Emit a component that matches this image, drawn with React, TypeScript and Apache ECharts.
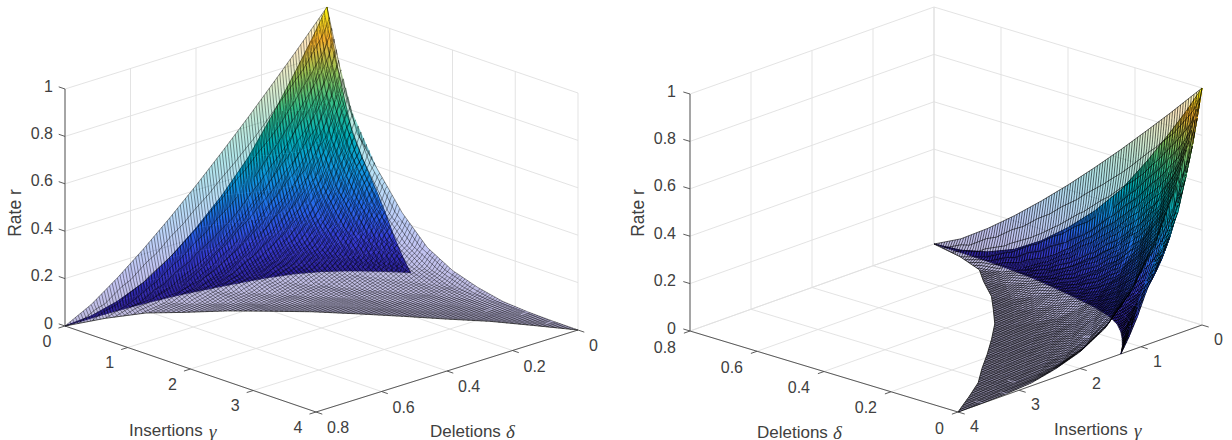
import React, { useEffect, useRef } from "react";
import * as echarts from "echarts";

// ---------- data ----------
const gammaTicks = [0, 1, 2, 3, 4];
const deltaTicks = [0, 0.2, 0.4, 0.6, 0.8];
const rateTicks = [0, 0.2, 0.4, 0.6, 0.8, 1];
const rateTickLabels = ["0", "0.2", "0.4", "0.6", "0.8", "1"];
const deltaTickLabels = ["0", "0.2", "0.4", "0.6", "0.8"];
const gammaTickLabels = ["0", "1", "2", "3", "4"];

// each sheet: a fan of profiles from (gamma 0, delta 0, r 1) out to its zero-rate curve
const fractions = [0, 0.06, 0.12, 0.2, 0.3, 0.4, 0.5, 0.6, 0.7, 0.8, 0.9, 1];

const upperZeroGamma = [0, 0.12, 0.3, 0.56, 0.87, 1.17, 1.53, 1.94, 2.34, 2.74, 3.12, 3.55, 4];
const upperZeroDelta = [0.8, 0.7, 0.61, 0.55, 0.47, 0.41, 0.34, 0.275, 0.215, 0.158, 0.1, 0.05, 0];
const upperRate = [
  [1, 0.926, 0.852, 0.757, 0.64, 0.528, 0.42, 0.318, 0.222, 0.134, 0.056, 0],
  [1, 0.911, 0.826, 0.716, 0.586, 0.465, 0.354, 0.253, 0.164, 0.089, 0.032, 0],
  [1, 0.894, 0.794, 0.669, 0.526, 0.399, 0.287, 0.192, 0.114, 0.055, 0.016, 0],
  [1, 0.878, 0.765, 0.626, 0.473, 0.342, 0.233, 0.146, 0.08, 0.034, 0.008, 0],
  [1, 0.862, 0.736, 0.585, 0.425, 0.293, 0.189, 0.111, 0.056, 0.021, 0.004, 0],
  [1, 0.846, 0.708, 0.547, 0.382, 0.252, 0.154, 0.084, 0.039, 0.013, 0.002, 0],
  [1, 0.831, 0.681, 0.512, 0.343, 0.216, 0.125, 0.064, 0.027, 0.008, 0.001, 0],
  [1, 0.82, 0.664, 0.49, 0.319, 0.195, 0.109, 0.053, 0.021, 0.006, 0.001, 0],
  [1, 0.81, 0.647, 0.468, 0.297, 0.176, 0.095, 0.044, 0.017, 0.004, 0, 0],
  [1, 0.8, 0.631, 0.448, 0.277, 0.159, 0.082, 0.037, 0.013, 0.003, 0, 0],
  [1, 0.79, 0.615, 0.428, 0.258, 0.144, 0.072, 0.031, 0.01, 0.002, 0, 0],
  [1, 0.781, 0.6, 0.41, 0.24, 0.13, 0.063, 0.026, 0.008, 0.002, 0, 0],
  [1, 0.72, 0.51, 0.39, 0.24, 0.13, 0.07, 0.035, 0.012, 0.004, 0.001, 0],
];

const lowerZeroGamma = [0, 0.015, 0.05, 0.11, 0.19, 0.28, 0.37, 0.48, 0.62, 0.78, 0.95, 1.14, 1.33];
const lowerZeroDelta = [0.8, 0.68, 0.58, 0.48, 0.4, 0.32, 0.25, 0.19, 0.14, 0.1, 0.065, 0.03, 0];
const lowerRate = [
  [1, 0.88, 0.77, 0.63, 0.47, 0.345, 0.24, 0.15, 0.08, 0.035, 0.008, 0],
  [1, 0.88, 0.765, 0.62, 0.46, 0.33, 0.23, 0.145, 0.078, 0.034, 0.008, 0],
  [1, 0.875, 0.76, 0.61, 0.45, 0.32, 0.215, 0.135, 0.075, 0.032, 0.008, 0],
  [1, 0.875, 0.755, 0.605, 0.445, 0.31, 0.21, 0.13, 0.07, 0.03, 0.008, 0],
  [1, 0.87, 0.75, 0.6, 0.44, 0.31, 0.21, 0.13, 0.07, 0.03, 0.008, 0],
  [1, 0.87, 0.75, 0.6, 0.44, 0.31, 0.215, 0.14, 0.08, 0.04, 0.012, 0],
  [1, 0.87, 0.75, 0.61, 0.45, 0.32, 0.225, 0.15, 0.09, 0.05, 0.018, 0],
  [1, 0.87, 0.75, 0.61, 0.46, 0.33, 0.24, 0.17, 0.11, 0.065, 0.025, 0],
  [1, 0.87, 0.75, 0.62, 0.47, 0.35, 0.26, 0.19, 0.13, 0.08, 0.035, 0],
  [1, 0.88, 0.76, 0.63, 0.49, 0.38, 0.29, 0.22, 0.16, 0.1, 0.045, 0],
  [1, 0.88, 0.77, 0.65, 0.52, 0.42, 0.34, 0.27, 0.2, 0.13, 0.06, 0],
  [1, 0.88, 0.77, 0.66, 0.54, 0.45, 0.38, 0.32, 0.25, 0.17, 0.08, 0],
  [1, 0.88, 0.77, 0.65, 0.51, 0.43, 0.36, 0.29, 0.215, 0.13, 0.06, 0],
];

// colour map as seen in the picture, evenly spaced from r = 0 to r = 1
const colorMap = [
  [45, 30, 150], [55, 60, 215], [35, 105, 235], [15, 150, 225], [0, 175, 185],
  [50, 190, 135], [150, 195, 85], [250, 175, 40], [250, 245, 15],
];

// ---------- layout ----------
const GAMMA_MAX = 4;
const DELTA_MAX = 0.8;
const MESH_DGAMMA = 0.04;
const MESH_DDELTA = 0.008;
const FONT = '"Liberation Sans", Arial, sans-serif';
const SERIF = '"Liberation Serif", serif';
const TEXT = "#404040";

type View = any;
const leftView: View = {
  o: [327, 244], g: [251, 86], d: [-262, 82], z: 237,
  zAxis: [0, DELTA_MAX], gammaAxisDelta: DELTA_MAX, deltaAxisGamma: GAMMA_MAX,
  wallGamma: 0, wallDelta: 0,
  zTick: [-0.1, 0], gammaTick: 0.02, deltaTick: 0.1,
  gammaLabel: [-18, 15, "center"], deltaLabel: [11, 15.5, "left"], rateLabel: [-12, -3],
  rateTitle: [15, 213], gammaTitle: [129, 430], deltaTitle: [430, 431],
  lowerLine: 0.6, upperLine: 0.42, upperEdge: 0.8,
};
const rightView: View = {
  o: [1202, 325], g: [-244, 87], d: [-268, -81], z: 237,
  zAxis: [GAMMA_MAX, DELTA_MAX], gammaAxisDelta: 0, deltaAxisGamma: GAMMA_MAX,
  wallGamma: 0, wallDelta: DELTA_MAX,
  zTick: [0, 0.02], gammaTick: -0.02, deltaTick: 0.1,
  gammaLabel: [16.5, 14.5, "center"], deltaLabel: [-14, 16, "right"], rateLabel: [-14, -3],
  rateTitle: [638, 213], gammaTitle: [1054, 429], deltaTitle: [757, 432],
  lowerLine: 0.8, upperLine: 0.6, upperEdge: 0.9,
};

function project(v: View, gamma: number, delta: number, r: number) {
  const a = gamma / GAMMA_MAX;
  const b = delta / DELTA_MAX;
  return [v.o[0] + a * v.g[0] + b * v.d[0], v.o[1] + a * v.g[1] + b * v.d[1] - r * v.z];
}

function parula(r: number) {
  const t = Math.max(0, Math.min(1, r)) * (colorMap.length - 1);
  const i = Math.min(colorMap.length - 2, Math.floor(t));
  const k = t - i;
  const c = colorMap[i].map((x, n) => Math.round(x + (colorMap[i + 1][n] - x) * k));
  return `rgb(${c[0]},${c[1]},${c[2]})`;
}

function triangleFill(p: number[][], r: number[]) {
  const e1 = [p[1][0] - p[0][0], p[1][1] - p[0][1]];
  const e2 = [p[2][0] - p[0][0], p[2][1] - p[0][1]];
  const det = e1[0] * e2[1] - e1[1] * e2[0];
  const rMin = Math.min(...r);
  const rMax = Math.max(...r);
  if (Math.abs(det) < 1e-6 || rMax - rMin < 1e-4) return parula((rMin + rMax) / 2);
  const d1 = r[1] - r[0];
  const d2 = r[2] - r[0];
  const gx = (d1 * e2[1] - d2 * e1[1]) / det;
  const gy = (e1[0] * d2 - e2[0] * d1) / det;
  const n = gx * gx + gy * gy;
  const a = p[r.indexOf(rMin)];
  const span = rMax - rMin;
  const stops: any[] = [{ offset: 0, color: parula(rMin) }];
  const step = 1 / (colorMap.length - 1);
  for (let k = Math.ceil(rMin / step + 1e-6); k * step < rMax; k++) {
    stops.push({ offset: (k * step - rMin) / span, color: parula(k * step) });
  }
  stops.push({ offset: 1, color: parula(rMax) });
  return new echarts.graphic.LinearGradient(a[0], a[1], a[0] + (gx / n) * span, a[1] + (gy / n) * span, stops, true);
}

// mesh lines of constant gamma and constant delta crossing one facet
function meshSegments(tri: number[][], idx: number, step: number, seg: (a: number[], b: number[]) => void) {
  const vals = tri.map((t) => t[idx]);
  const lo = Math.ceil(Math.min(...vals) / step - 1e-9);
  const hi = Math.floor(Math.max(...vals) / step + 1e-9);
  for (let k = lo; k <= hi; k++) {
    if (k === 0) continue;
    const level = k * step;
    const hits: number[][] = [];
    for (let e = 0; e < 3; e++) {
      const a = tri[e];
      const b = tri[(e + 1) % 3];
      if (a[idx] === b[idx]) continue;
      const t = (level - a[idx]) / (b[idx] - a[idx]);
      if (t >= 0 && t <= 1) hits.push([a[0] + (b[0] - a[0]) * t, a[1] + (b[1] - a[1]) * t, a[2] + (b[2] - a[2]) * t]);
    }
    if (hits.length >= 2) seg(hits[0], hits[1]);
  }
}

function sheetSeries(xIdx: number, v: View, zeroG: number[], zeroD: number[], rate: number[][], opacity: number, z: number, meshWidth: number, edgeWidth: number) {
  const cells: number[][] = [];
  for (let f = 0; f < fractions.length - 1; f++) {
    for (let s = 0; s < rate.length - 1; s++) cells.push([s, f]);
  }
  const vertex = (s: number, f: number) => [zeroG[s] * fractions[f], zeroD[s] * fractions[f], rate[s][f]];
  return {
    type: "custom",
    xAxisIndex: xIdx,
    yAxisIndex: xIdx,
    coordinateSystem: "cartesian2d",
    silent: true,
    clip: false,
    z,
    data: cells,
    renderItem: (_p: any, api: any) => {
      const s = api.value(0);
      const f = api.value(1);
      const q = [vertex(s, f), vertex(s + 1, f), vertex(s + 1, f + 1), vertex(s, f + 1)];
      const tris = [[q[0], q[1], q[2]], [q[0], q[2], q[3]]];
      const children: any[] = [];
      const xy = (t: number[]) => api.coord(project(v, t[0], t[1], t[2]));
      let path = "";
      const seg = (a: number[], b: number[]) => {
        const pa = xy(a);
        const pb = xy(b);
        path += `M${pa[0].toFixed(2)} ${pa[1].toFixed(2)}L${pb[0].toFixed(2)} ${pb[1].toFixed(2)}`;
      };
      for (const tri of tris) {
        const pts = tri.map(xy);
        const area = Math.abs((pts[1][0] - pts[0][0]) * (pts[2][1] - pts[0][1]) - (pts[2][0] - pts[0][0]) * (pts[1][1] - pts[0][1]));
        if (area < 1e-3) continue;
        const fill = triangleFill(pts, tri.map((t) => t[2]));
        children.push({
          type: "polygon",
          shape: { points: pts },
          style: { fill, stroke: opacity < 1 ? "none" : fill, lineWidth: opacity < 1 ? 0 : 0.5, opacity },
        });
        meshSegments(tri, 0, MESH_DGAMMA, seg);
        meshSegments(tri, 1, MESH_DDELTA, seg);
      }
      if (s === 0) seg(q[0], q[3]);
      if (s === rate.length - 2) seg(q[1], q[2]);
      if (path) {
        children.push({
          type: "path",
          shape: { pathData: path },
          style: { fill: "none", stroke: "#000", lineWidth: meshWidth },
        });
      }
      if (f === fractions.length - 2) {
        const a = xy(q[2]);
        const b = xy(q[3]);
        children.push({
          type: "line",
          shape: { x1: a[0], y1: a[1], x2: b[0], y2: b[1] },
          style: { stroke: "#222", lineWidth: edgeWidth },
        });
      }
      return { type: "group", children };
    },
  };
}

function axesSeries(xIdx: number, v: View) {
  return {
    type: "custom",
    xAxisIndex: xIdx,
    yAxisIndex: xIdx,
    coordinateSystem: "cartesian2d",
    silent: true,
    clip: false,
    z: 1,
    data: [[0, 0]],
    renderItem: (_p: any, api: any) => {
      const xy = (g: number, d: number, r: number) => api.coord(project(v, g, d, r));
      const children: any[] = [];
      const line = (a: number[], b: number[], stroke: string, lineWidth: number) =>
        children.push({ type: "line", shape: { x1: a[0], y1: a[1], x2: b[0], y2: b[1] }, style: { stroke, lineWidth } });
      const GRID = "#e0e0e0";
      const W = 0.9;
      for (const g of gammaTicks) {
        line(xy(g, 0, 0), xy(g, DELTA_MAX, 0), GRID, W);
        line(xy(g, v.wallDelta, 0), xy(g, v.wallDelta, 1), GRID, W);
      }
      for (const d of deltaTicks) {
        line(xy(0, d, 0), xy(GAMMA_MAX, d, 0), GRID, W);
        line(xy(v.wallGamma, d, 0), xy(v.wallGamma, d, 1), GRID, W);
      }
      for (const r of rateTicks) {
        line(xy(v.wallGamma, 0, r), xy(v.wallGamma, DELTA_MAX, r), GRID, W);
        line(xy(0, v.wallDelta, r), xy(GAMMA_MAX, v.wallDelta, r), GRID, W);
      }
      const DARK = "#4a4a4a";
      const DW = 0.9;
      line(xy(v.zAxis[0], v.zAxis[1], 0), xy(v.zAxis[0], v.zAxis[1], 1), DARK, DW);
      line(xy(0, v.gammaAxisDelta, 0), xy(GAMMA_MAX, v.gammaAxisDelta, 0), DARK, DW);
      line(xy(v.deltaAxisGamma, 0, 0), xy(v.deltaAxisGamma, DELTA_MAX, 0), DARK, DW);
      const text = (x: number, y: number, t: string, align: string, font: string, rotation = 0) =>
        children.push({
          type: "text",
          x,
          y,
          rotation,
          style: { text: t, fill: TEXT, font, textAlign: align, textVerticalAlign: "middle" },
        });
      const tickFont = `16px ${FONT}`;
      rateTicks.forEach((r, i) => {
        const p = xy(v.zAxis[0], v.zAxis[1], r);
        line(p, xy(v.zAxis[0] + v.zTick[0], v.zAxis[1] + v.zTick[1], r), DARK, DW);
        text(p[0] + v.rateLabel[0], p[1] + v.rateLabel[1], rateTickLabels[i], "right", tickFont);
      });
      gammaTicks.forEach((g, i) => {
        const p = xy(g, v.gammaAxisDelta, 0);
        line(p, xy(g, v.gammaAxisDelta + v.gammaTick, 0), DARK, DW);
        text(p[0] + v.gammaLabel[0], p[1] + v.gammaLabel[1], gammaTickLabels[i], v.gammaLabel[2], tickFont);
      });
      deltaTicks.forEach((d, i) => {
        const p = xy(v.deltaAxisGamma, d, 0);
        line(p, xy(v.deltaAxisGamma + v.deltaTick, d, 0), DARK, DW);
        text(p[0] + v.deltaLabel[0], p[1] + v.deltaLabel[1], deltaTickLabels[i], v.deltaLabel[2], tickFont);
      });
      const titleFont = `17px ${FONT}`;
      const greekFont = `italic 19px ${SERIF}`;
      text(v.gammaTitle[0], v.gammaTitle[1], "Insertions", "left", titleFont);
      text(v.gammaTitle[0] + 80, v.gammaTitle[1] + 1, "γ", "left", greekFont);
      text(v.deltaTitle[0], v.deltaTitle[1], "Deletions", "left", titleFont);
      text(v.deltaTitle[0] + 76, v.deltaTitle[1], "δ", "left", greekFont);
      text(v.rateTitle[0], v.rateTitle[1], "Rate r", "center", `17.5px ${FONT}`, Math.PI / 2);
      return { type: "group", children };
    },
  };
}

const fullAxis = (max: number, inverse: boolean) => ({
  type: "value",
  show: false,
  min: 0,
  max,
  inverse,
  splitLine: { show: false },
});

export default function App() {
  const ref = useRef<HTMLDivElement>(null);
  useEffect(() => {
    document.body.style.margin = "0";
    const chart = echarts.init(ref.current!, null, { renderer: "svg", width: 1232, height: 440 });
    chart.setOption({
      animation: false,
      backgroundColor: "#fff",
      grid: { left: 0, top: 0, width: 1232, height: 440, show: false },
      xAxis: fullAxis(1232, false),
      yAxis: fullAxis(440, true),
      series: [
        axesSeries(0, leftView),
        axesSeries(0, rightView),
        sheetSeries(0, leftView, lowerZeroGamma, lowerZeroDelta, lowerRate, 1, 2, leftView.lowerLine, 0.4),
        sheetSeries(0, leftView, upperZeroGamma, upperZeroDelta, upperRate, 0.3, 3, leftView.upperLine, leftView.upperEdge),
        sheetSeries(0, rightView, lowerZeroGamma, lowerZeroDelta, lowerRate, 1, 2, rightView.lowerLine, 0.4),
        sheetSeries(0, rightView, upperZeroGamma, upperZeroDelta, upperRate, 0.3, 3, rightView.upperLine, rightView.upperEdge),
      ],
    });
    return () => chart.dispose();
  }, []);
  return <div ref={ref} style={{ width: 1232, height: 440 }} />;
}
